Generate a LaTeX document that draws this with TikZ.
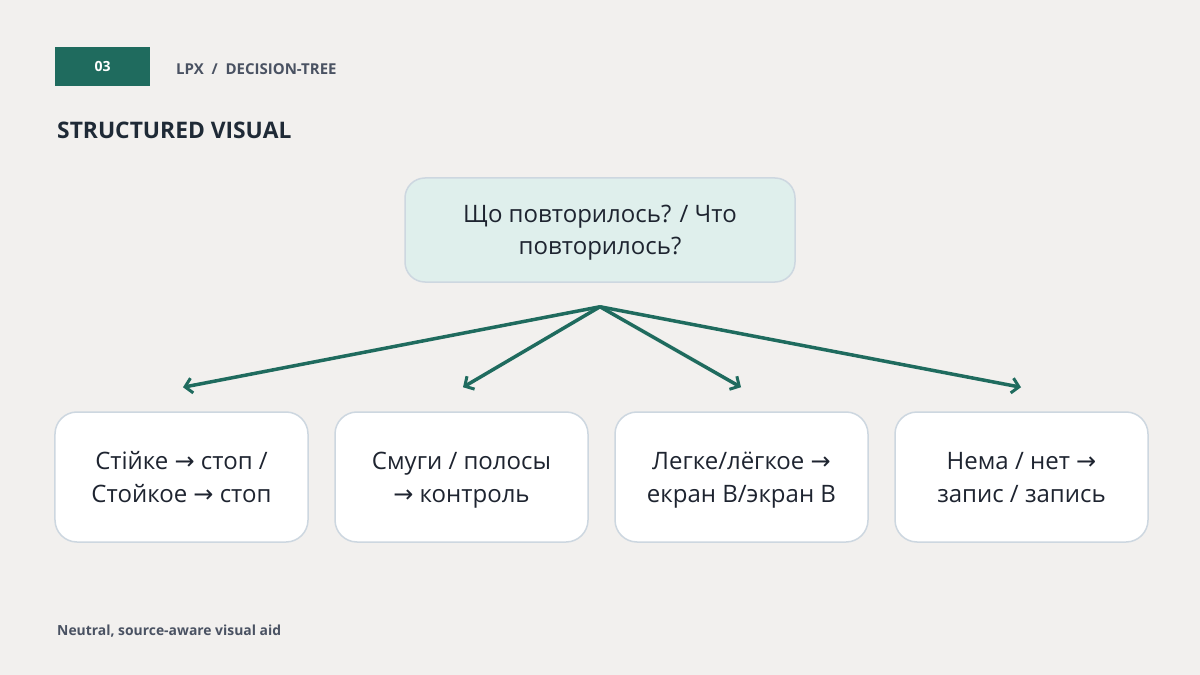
\documentclass[tikz,border=0pt]{standalone}
\usepackage{fontspec}
\setmainfont{Open Sans}
\newfontfamily\arrowfont{DejaVu Sans}
\newcommand{\rarr}{{\arrowfont →}}
\usetikzlibrary{arrows.meta,calc}
\definecolor{bgc}{HTML}{F2F0EE}
\definecolor{teal}{HTML}{1F6B5E}
\definecolor{rootfill}{HTML}{DFEFEC}
\definecolor{boxline}{HTML}{CDD7E0}
\definecolor{darktxt}{HTML}{1F2A36}
\definecolor{graytxt}{HTML}{4A5262}
\definecolor{bodytxt}{HTML}{1E2430}
\tikzset{
  rootbox/.style={draw=boxline, line width=1.5bp, fill=rootfill, rounded corners=20bp,
    minimum width=390bp, minimum height=104bp, align=center, text=bodytxt,
    font=\fontsize{24bp}{32bp}\selectfont, inner sep=0pt, text height=50bp, text depth=1bp},
  leafbox/.style={draw=boxline, line width=1.5bp, fill=white, rounded corners=22bp,
    minimum width=253bp, minimum height=130bp, align=center, text=bodytxt,
    font=\fontsize{24bp}{33bp}\selectfont, inner sep=0pt, text height=51bp, text depth=1bp},
  link/.style={draw=teal, line width=3.5bp, -{Straight Barb[length=7bp,width=15bp,line width=3bp]}}
}
\begin{document}
\begin{tikzpicture}[x=1bp,y=-1bp]
\fill[bgc] (0,0) rectangle (1200,675);
\useasboundingbox (0,0) rectangle (1200,675);
\node[fill=teal, minimum width=95bp, minimum height=39bp, inner sep=0pt, text=white,
  font=\bfseries\fontsize{14bp}{16bp}\selectfont] (tag) at (102.5,66.5) {03};
\node[anchor=west, inner sep=0pt, text=graytxt, font=\bfseries\fontsize{15bp}{18bp}\selectfont]
  (crumb) at (176,69) {LPX\ \ /\ \ DECISION-TREE};
\node[anchor=west, inner sep=0pt, text=darktxt, font=\bfseries\fontsize{22.8bp}{26bp}\selectfont]
  (title) at (57,130) {STRUCTURED VISUAL};
\node[rootbox] (root) at (600,230) {Що повторилось? / Что\\повторилось?};
\node[leafbox] (c1) at (181.5,477) {Стійке \rarr{} стоп /\\Стойкое \rarr{} стоп};
\node[leafbox] (c2) at (461.5,477) {Смуги / полосы\\\rarr{} контроль};
\node[leafbox] (c3) at (741.5,477) {Легке/лёгкое \rarr\\екран B/экран B};
\node[leafbox] (c4) at (1021.5,477) {Нема / нет \rarr\\запис / запись};
\coordinate (hub) at ($(root.south)+(0,24)$);
\foreach \i/\dx in {1/1.5,2/1.5,3/-0.5,4/-0.5} {
  \coordinate (e\i) at ($(c\i.north)+(\dx,-24)$);
  \draw[link] (hub) -- (e\i);
}
\node[anchor=west, inner sep=0pt, text=graytxt, font=\bfseries\fontsize{13.9bp}{16bp}\selectfont]
  (foot) at (57,631) {Neutral, source-aware visual aid};
\end{tikzpicture}
\end{document}
